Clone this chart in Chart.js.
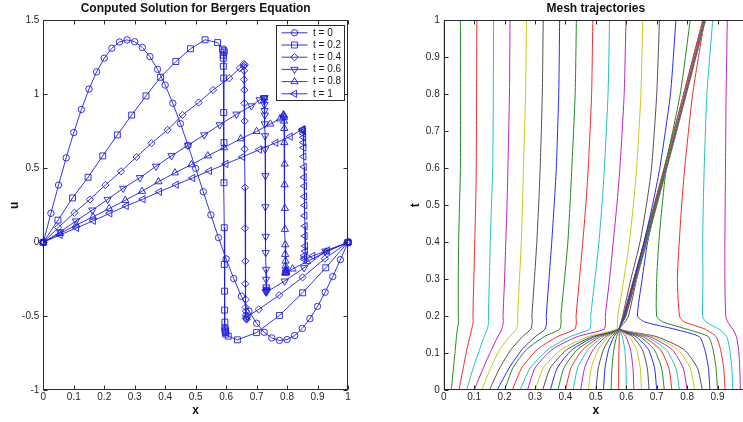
<!DOCTYPE html>
<html>
<head>
<meta charset="utf-8">
<script src="https://cdn.jsdelivr.net/npm/chart.js@4.4.1/dist/chart.umd.min.js"></script>
<style>
  html, body { margin: 0; padding: 0; width: 743px; height: 422px; overflow: hidden; background: #fff; }
  #solution { position: absolute; left: 0; top: 0; }
  #mesh { position: absolute; left: 372px; top: 0; }
</style>
</head>
<body>
<canvas id="solution" width="372" height="422"></canvas>
<canvas id="mesh" width="390" height="422"></canvas>
<script>
// ---- data ---------------------------------------------------------------

// Sample times at which the positions of the mesh nodes are stored
const meshTimes = [0, 0.06, 0.11, 0.145, 0.165, 0.185, 0.2, 0.3, 0.4, 0.5, 0.6, 0.8, 1];

// Position x of each of the 41 mesh nodes at every sample time (one row per node)
const meshPaths = [
  [0, 0, 0, 0, 0, 0, 0, 0, 0, 0, 0, 0, 0],
  [0.025, 0.032, 0.038, 0.042, 0.045, 0.049, 0.048, 0.048, 0.049, 0.052, 0.055, 0.055, 0.055],
  [0.05, 0.064, 0.076, 0.086, 0.092, 0.097, 0.096, 0.099, 0.102, 0.105, 0.107, 0.108, 0.109],
  [0.075, 0.097, 0.118, 0.133, 0.143, 0.148, 0.147, 0.15, 0.153, 0.157, 0.161, 0.163, 0.164],
  [0.1, 0.13, 0.157, 0.178, 0.191, 0.196, 0.195, 0.2, 0.204, 0.208, 0.211, 0.216, 0.218],
  [0.125, 0.154, 0.184, 0.216, 0.239, 0.244, 0.243, 0.249, 0.255, 0.259, 0.262, 0.269, 0.272],
  [0.15, 0.184, 0.221, 0.259, 0.286, 0.291, 0.29, 0.298, 0.306, 0.312, 0.317, 0.324, 0.327],
  [0.175, 0.215, 0.257, 0.301, 0.333, 0.338, 0.337, 0.346, 0.355, 0.363, 0.37, 0.378, 0.381],
  [0.2, 0.227, 0.272, 0.33, 0.381, 0.386, 0.385, 0.397, 0.408, 0.415, 0.421, 0.432, 0.436],
  [0.225, 0.256, 0.307, 0.373, 0.431, 0.436, 0.435, 0.446, 0.457, 0.467, 0.475, 0.486, 0.49],
  [0.25, 0.284, 0.342, 0.415, 0.479, 0.484, 0.483, 0.497, 0.51, 0.52, 0.528, 0.54, 0.545],
  [0.275, 0.3, 0.356, 0.439, 0.527, 0.532, 0.531, 0.545, 0.557, 0.569, 0.579, 0.593, 0.599],
  [0.3, 0.327, 0.386, 0.474, 0.568, 0.571, 0.572, 0.592, 0.61, 0.623, 0.634, 0.648, 0.654],
  [0.325, 0.35, 0.405, 0.487, 0.574, 0.583, 0.588, 0.615, 0.645, 0.666, 0.683, 0.7, 0.709],
  [0.35, 0.373, 0.422, 0.496, 0.575, 0.585, 0.593, 0.626, 0.658, 0.686, 0.71, 0.745, 0.763],
  [0.375, 0.395, 0.439, 0.506, 0.576, 0.585, 0.593, 0.627, 0.661, 0.694, 0.726, 0.777, 0.81],
  [0.4, 0.418, 0.457, 0.515, 0.577, 0.584, 0.59, 0.624, 0.658, 0.691, 0.724, 0.788, 0.851],
  [0.425, 0.44, 0.474, 0.524, 0.577, 0.585, 0.591, 0.625, 0.659, 0.692, 0.725, 0.789, 0.852],
  [0.45, 0.463, 0.491, 0.533, 0.577, 0.585, 0.591, 0.625, 0.659, 0.692, 0.725, 0.789, 0.852],
  [0.475, 0.485, 0.508, 0.541, 0.577, 0.585, 0.592, 0.626, 0.66, 0.693, 0.726, 0.79, 0.853],
  [0.5, 0.508, 0.525, 0.55, 0.577, 0.585, 0.592, 0.626, 0.66, 0.693, 0.726, 0.79, 0.853],
  [0.525, 0.53, 0.542, 0.559, 0.577, 0.586, 0.593, 0.627, 0.661, 0.694, 0.727, 0.791, 0.854],
  [0.55, 0.553, 0.559, 0.568, 0.577, 0.586, 0.593, 0.627, 0.661, 0.694, 0.727, 0.791, 0.854],
  [0.575, 0.575, 0.576, 0.577, 0.577, 0.586, 0.594, 0.628, 0.662, 0.695, 0.728, 0.792, 0.855],
  [0.6, 0.599, 0.595, 0.587, 0.577, 0.586, 0.594, 0.628, 0.662, 0.695, 0.728, 0.792, 0.855],
  [0.625, 0.622, 0.614, 0.599, 0.577, 0.587, 0.595, 0.629, 0.663, 0.696, 0.729, 0.793, 0.856],
  [0.65, 0.646, 0.634, 0.61, 0.577, 0.587, 0.595, 0.629, 0.663, 0.696, 0.729, 0.793, 0.856],
  [0.675, 0.669, 0.653, 0.621, 0.577, 0.587, 0.596, 0.63, 0.664, 0.697, 0.73, 0.794, 0.857],
  [0.7, 0.693, 0.673, 0.632, 0.577, 0.587, 0.596, 0.63, 0.664, 0.697, 0.73, 0.794, 0.857],
  [0.725, 0.716, 0.692, 0.644, 0.577, 0.588, 0.597, 0.631, 0.665, 0.698, 0.731, 0.795, 0.858],
  [0.75, 0.74, 0.712, 0.655, 0.577, 0.588, 0.597, 0.631, 0.665, 0.698, 0.731, 0.795, 0.858],
  [0.775, 0.763, 0.731, 0.666, 0.577, 0.588, 0.598, 0.632, 0.666, 0.699, 0.732, 0.796, 0.859],
  [0.8, 0.787, 0.751, 0.677, 0.577, 0.588, 0.598, 0.632, 0.666, 0.699, 0.732, 0.796, 0.859],
  [0.825, 0.81, 0.77, 0.689, 0.577, 0.589, 0.599, 0.633, 0.667, 0.7, 0.733, 0.797, 0.86],
  [0.85, 0.834, 0.79, 0.7, 0.578, 0.596, 0.607, 0.634, 0.667, 0.7, 0.733, 0.797, 0.86],
  [0.875, 0.87, 0.858, 0.84, 0.76, 0.66, 0.637, 0.652, 0.67, 0.698, 0.73, 0.794, 0.857],
  [0.9, 0.895, 0.885, 0.87, 0.8, 0.72, 0.7, 0.7, 0.707, 0.718, 0.732, 0.795, 0.858],
  [0.925, 0.92, 0.91, 0.895, 0.86, 0.79, 0.775, 0.768, 0.774, 0.782, 0.792, 0.818, 0.857],
  [0.95, 0.947, 0.94, 0.93, 0.905, 0.862, 0.851, 0.852, 0.851, 0.853, 0.856, 0.865, 0.884],
  [0.975, 0.973, 0.969, 0.962, 0.95, 0.933, 0.927, 0.924, 0.924, 0.925, 0.926, 0.928, 0.932],
  [1, 1, 1, 1, 1, 1, 1, 1, 1, 1, 1, 1, 1]
];

// Times of the plotted solution snapshots and their legend labels
const snapshotTimes = [0, 0.2, 0.4, 0.6, 0.8, 1];
const snapshotLabels = ['t = 0', 't = 0.2', 't = 0.4', 't = 0.6', 't = 0.8', 't = 1'];

// Solution u at the 41 mesh nodes for each snapshot
const uAt0 = [0, 0.196, 0.387, 0.571, 0.742, 0.898, 1.036, 1.152, 1.245, 1.312, 1.354, 1.368, 1.356,
  1.317, 1.255, 1.169, 1.063, 0.94, 0.803, 0.655, 0.5, 0.342, 0.185, 0.032, -0.112, -0.245, -0.364,
  -0.465, -0.547, -0.608, -0.646, -0.663, -0.657, -0.63, -0.582, -0.516, -0.433, -0.337, -0.231, -0.117, 0];
const uAt02 = [0, 0.15, 0.3, 0.44, 0.584, 0.726, 0.86, 0.99, 1.116, 1.222, 1.308, 1.369, 1.35, 1.306,
  1.295, 1.285, 1.265, 1.245, 1.19, 1.11, 0.877, 0.674, 0.403, 0.099, -0.149, -0.33, -0.458, -0.539,
  -0.578, -0.59, -0.598, -0.604, -0.61, -0.62, -0.634, -0.659, -0.61, -0.494, -0.341, -0.172, 0];
const uAt04 = [0, 0.1, 0.2, 0.29, 0.388, 0.48, 0.577, 0.67, 0.76, 0.861, 0.945, 1.03, 1.11, 1.177,
  1.206, 1.2, 1.19, 1.16, 1.1, 1.03, 0.94, 0.82, 0.63, 0.37, 0.095, -0.127, -0.28, -0.386, -0.44,
  -0.465, -0.49, -0.505, -0.513, -0.518, -0.521, -0.5, -0.453, -0.357, -0.237, -0.11, 0];
const uAt06 = [0, 0.07, 0.144, 0.218, 0.29, 0.365, 0.437, 0.514, 0.585, 0.656, 0.726, 0.794, 0.866, 0.922,
  0.963, 0.978, 0.975, 0.97, 0.955, 0.93, 0.89, 0.86, 0.8, 0.72, 0.63, 0.45, 0.24, 0.04, -0.07, -0.183,
  -0.25, -0.302, -0.318, -0.325, -0.33, -0.334, -0.337, -0.262, -0.172, -0.059, 0];
const uAt08 = [0, 0.06, 0.117, 0.172, 0.228, 0.284, 0.345, 0.41, 0.47, 0.525, 0.585, 0.64, 0.7, 0.75,
  0.8, 0.835, 0.862, 0.86, 0.855, 0.845, 0.82, 0.77, 0.675, 0.53, 0.39, 0.23, 0.088, -0.016, -0.081,
  -0.126, -0.16, -0.18, -0.19, -0.198, -0.203, -0.206, -0.208, -0.18, -0.13, -0.065, 0];
const uAt1 = [0, 0.05, 0.097, 0.146, 0.196, 0.246, 0.292, 0.342, 0.39, 0.435, 0.483, 0.53, 0.577, 0.627,
  0.673, 0.715, 0.765, 0.762, 0.758, 0.75, 0.735, 0.71, 0.675, 0.64, 0.58, 0.51, 0.44, 0.38, 0.31,
  0.25, 0.18, 0.11, 0.043, -0.025, -0.06, -0.09, -0.105, -0.115, -0.092, -0.055, 0];
const snapshotValues = [uAt0, uAt02, uAt04, uAt06, uAt08, uAt1];

// Axis ticks
const xTickValues = [0, 0.1, 0.2, 0.3, 0.4, 0.5, 0.6, 0.7, 0.8, 0.9, 1];
const xTickLabels = ['0', '0.1', '0.2', '0.3', '0.4', '0.5', '0.6', '0.7', '0.8', '0.9', '1'];
const uTickValues = [-1, -0.5, 0, 0.5, 1, 1.5];
const uTickLabels = ['-1', '-0.5', '0', '0.5', '1', '1.5'];
const tTickValues = [0, 0.1, 0.2, 0.3, 0.4, 0.5, 0.6, 0.7, 0.8, 0.9, 1];
const tTickLabels = ['0', '0.1', '0.2', '0.3', '0.4', '0.5', '0.6', '0.7', '0.8', '0.9', '1'];

// ---- styling ------------------------------------------------------------

const FONT = '"Liberation Sans", Arial, Helvetica, sans-serif';
Chart.defaults.font.family = FONT;
Chart.defaults.font.size = 10;
Chart.defaults.color = '#262626';

const solutionBlue = 'rgb(30,30,225)';
// Markers of the six snapshots: circle, square, diamond, down / up / left triangle
const snapshotMarkers = [
  { pointStyle: 'circle', radius: 3.2, rotation: 0 },
  { pointStyle: 'rect', radius: 4.2, rotation: 0 },
  { pointStyle: 'rectRot', radius: 3.6, rotation: 0 },
  { pointStyle: 'triangle', radius: 4.2, rotation: 180 },
  { pointStyle: 'triangle', radius: 4.2, rotation: 0 },
  { pointStyle: 'triangle', radius: 4.2, rotation: 270 }
];
// Colour cycle for the node trajectories
const pathColors = ['#2828f0', '#1f8a1f', '#f02a2a', '#20c0c0', '#c020c0', '#c8c818', '#505050'];

// Boxed axes with short inward tick marks on all four sides
const axesFrame = {
  id: 'axesFrame',
  afterDraw(chart) {
    const { ctx, chartArea: a, scales } = chart;
    const L = Math.round(a.left) + 0.5, R = Math.round(a.right) - 0.5;
    const T = Math.round(a.top) + 0.5, B = Math.round(a.bottom) - 0.5;
    ctx.save();
    ctx.strokeStyle = '#2a2a2a';
    ctx.lineWidth = 1;
    ctx.strokeRect(L, T, R - L, B - T);
    ctx.beginPath();
    scales.x.ticks.forEach(t => {
      const p = Math.round(scales.x.getPixelForValue(t.value)) + 0.5;
      ctx.moveTo(p, B); ctx.lineTo(p, B - 4);
      ctx.moveTo(p, T); ctx.lineTo(p, T + 4);
    });
    scales.y.ticks.forEach(t => {
      const p = Math.round(scales.y.getPixelForValue(t.value)) + 0.5;
      ctx.moveTo(L, p); ctx.lineTo(L + 4, p);
      ctx.moveTo(R, p); ctx.lineTo(R - 4, p);
    });
    ctx.stroke();
    ctx.restore();
  }
};

// Boxed legend in the upper right corner: line sample, marker and label per snapshot
const snapshotLegend = {
  id: 'snapshotLegend',
  afterDraw(chart) {
    const { ctx, chartArea: a } = chart;
    const w = 68, h = 75, rowH = 12.2;
    const x0 = Math.round(a.right - 4.5 - w) + 0.5, y0 = Math.round(a.top + 4.5) + 0.5;
    ctx.save();
    ctx.fillStyle = '#fff';
    ctx.fillRect(x0, y0, w, h);
    ctx.strokeStyle = '#2a2a2a';
    ctx.lineWidth = 1;
    ctx.strokeRect(x0, y0, w, h);
    chart.data.datasets.forEach((ds, i) => {
      const y = y0 + 7.3 + i * rowH;
      ctx.strokeStyle = ds.borderColor;
      ctx.lineWidth = ds.borderWidth;
      ctx.beginPath();
      ctx.moveTo(x0 + 5, y);
      ctx.lineTo(x0 + 31, y);
      ctx.stroke();
      ctx.fillStyle = 'rgba(0,0,0,0)';
      ctx.strokeStyle = ds.pointBorderColor;
      ctx.lineWidth = ds.pointBorderWidth;
      Chart.helpers.drawPoint(ctx, {
        pointStyle: ds.pointStyle, radius: ds.pointRadius,
        rotation: ds.pointRotation, borderWidth: ds.pointBorderWidth
      }, x0 + 18, y);
      ctx.fillStyle = '#1a1a1a';
      ctx.font = '10px ' + FONT;
      ctx.textBaseline = 'middle';
      ctx.textAlign = 'left';
      ctx.fillText(ds.label, x0 + 36.5, y);
    });
    ctx.restore();
  }
};

function fixedTicks(values) {
  return scale => { scale.ticks = values.map(v => ({ value: v })); };
}

const hiddenGrid = { display: false, drawTicks: false };

// ---- left: solution snapshots --------------------------------------------

const snapshotDatasets = snapshotTimes.map((t, s) => {
  const col = meshTimes.indexOf(t);
  const m = snapshotMarkers[s];
  return {
    label: snapshotLabels[s],
    data: snapshotValues[s].map((u, i) => ({ x: meshPaths[i][col], y: u })),
    showLine: true,
    tension: 0,
    borderColor: solutionBlue,
    borderWidth: 0.9,
    pointStyle: m.pointStyle,
    pointRadius: m.radius,
    pointRotation: m.rotation,
    pointBorderColor: solutionBlue,
    pointBackgroundColor: 'rgba(0,0,0,0)',
    pointBorderWidth: 0.9,
    clip: false
  };
});

new Chart(document.getElementById('solution'), {
  type: 'scatter',
  data: { datasets: snapshotDatasets },
  options: {
    responsive: false,
    animation: false,
    events: [],
    layout: { padding: { left: 7, right: 24, top: 0, bottom: 0 } },
    plugins: {
      legend: { display: false },
      tooltip: { enabled: false },
      title: {
        display: true, fullSize: false,
        text: 'Conputed Solution for Bergers Equation',
        color: '#111', font: { size: 12, weight: 'bold' },
        padding: { top: 1, bottom: 5 }
      }
    },
    scales: {
      x: {
        type: 'linear', min: 0, max: 1,
        grid: hiddenGrid, border: { display: false },
        afterBuildTicks: fixedTicks(xTickValues),
        ticks: { padding: 1, autoSkip: false, maxRotation: 0, callback: (v, i) => xTickLabels[i] },
        title: { display: true, text: 'x', color: '#111', font: { size: 12, weight: 'bold' }, padding: { top: 0, bottom: 4 } },
        afterFit: s => { s.height = 31.7; }
      },
      y: {
        type: 'linear', min: -1, max: 1.5,
        grid: hiddenGrid, border: { display: false },
        afterBuildTicks: fixedTicks(uTickValues),
        ticks: { padding: 4, autoSkip: false, callback: (v, i) => uTickLabels[i] },
        title: { display: true, text: 'u', color: '#111', font: { size: 12, weight: 'bold' }, padding: { top: 0, bottom: 0 } },
        afterFit: s => { s.width = 36.3; }
      }
    }
  },
  plugins: [axesFrame, snapshotLegend]
});

// ---- right: mesh node trajectories ---------------------------------------

const pathDatasets = meshPaths.map((row, i) => ({
  label: 'node ' + i,
  data: row.map((x, k) => ({ x, y: meshTimes[k] })),
  showLine: true,
  tension: 0.2,
  borderColor: pathColors[i % pathColors.length],
  borderWidth: 1,
  pointRadius: 0
}));

new Chart(document.getElementById('mesh'), {
  type: 'scatter',
  data: { datasets: pathDatasets },
  options: {
    responsive: false,
    animation: false,
    events: [],
    layout: { padding: { left: 36, right: 14, top: 0, bottom: 0 } },
    plugins: {
      legend: { display: false },
      tooltip: { enabled: false },
      title: {
        display: true, fullSize: false,
        text: 'Mesh trajectories',
        color: '#111', font: { size: 12, weight: 'bold' },
        padding: { top: 1, bottom: 5 }
      }
    },
    scales: {
      x: {
        type: 'linear', min: 0, max: 1,
        grid: hiddenGrid, border: { display: false },
        afterBuildTicks: fixedTicks(xTickValues),
        ticks: { padding: 1, autoSkip: false, maxRotation: 0, callback: (v, i) => xTickLabels[i] },
        title: { display: true, text: 'x', color: '#111', font: { size: 12, weight: 'bold' }, padding: { top: 0, bottom: 4 } },
        afterFit: s => { s.height = 31.7; }
      },
      y: {
        type: 'linear', min: 0, max: 1,
        grid: hiddenGrid, border: { display: false },
        afterBuildTicks: fixedTicks(tTickValues),
        ticks: { padding: 4, autoSkip: false, callback: (v, i) => tTickLabels[i] },
        title: { display: true, text: 't', color: '#111', font: { size: 12, weight: 'bold' }, padding: { top: 0, bottom: 0 } },
        afterFit: s => { s.width = 35.7; }
      }
    }
  },
  plugins: [axesFrame]
});
</script>
</body>
</html>
